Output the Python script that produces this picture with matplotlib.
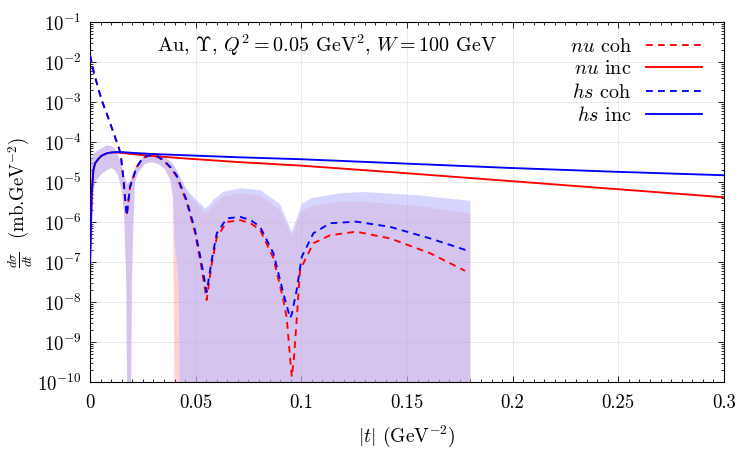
import numpy as np
import matplotlib
matplotlib.use('Agg')
import matplotlib.pyplot as plt
from matplotlib.ticker import MultipleLocator, LogLocator, NullFormatter, FuncFormatter

plt.rcParams['font.family'] = 'serif'
plt.rcParams['font.serif'] = ['cmr10']
plt.rcParams['mathtext.fontset'] = 'cm'
plt.rcParams['axes.formatter.use_mathtext'] = True
plt.rcParams['font.size'] = 13

# coherent curves (log10 of dsigma/dt)
t_hs_coh = [0, 0.002, 0.0055, 0.008, 0.010, 0.012, 0.0134, 0.0145, 0.0158, 0.0166, 0.0174,
            0.0189, 0.0221, 0.0252, 0.0284, 0.032, 0.0347, 0.038, 0.041, 0.0457, 0.0497, 0.0528,
            0.0552, 0.0576, 0.060, 0.0647, 0.071, 0.076, 0.0805, 0.0868, 0.0915, 0.0947, 0.0955,
            0.0978, 0.1002, 0.1057, 0.1136, 0.126, 0.142, 0.161, 0.179]
hs_coh_log = [-1.83, -2.3, -2.95, -3.3, -3.6, -3.9, -4.1, -4.3, -4.9, -5.4, -5.83,
              -5.12, -4.62, -4.38, -4.33, -4.36, -4.45, -4.62, -4.83, -5.45, -6.2, -7.03,
              -7.75, -6.95, -6.28, -5.91, -5.87, -5.95, -6.12, -6.78, -7.78, -8.4, -8.3,
              -7.7, -6.87, -6.28, -6.03, -5.99, -6.12, -6.41, -6.72]

t_nu_coh = [0, 0.002, 0.0055, 0.008, 0.010, 0.012, 0.0134, 0.0145, 0.0158, 0.0166, 0.0174,
            0.0189, 0.0221, 0.0252, 0.0284, 0.032, 0.0347, 0.038, 0.041, 0.0457, 0.0497, 0.0528,
            0.0552, 0.0576, 0.060, 0.0647, 0.071, 0.076, 0.0805, 0.0868, 0.0915, 0.0931, 0.0947,
            0.0955, 0.0965, 0.0978, 0.0994, 0.1057, 0.1136, 0.126, 0.142, 0.161, 0.1775]
nu_coh_log = [-1.83, -2.3, -2.95, -3.3, -3.6, -3.9, -4.1, -4.3, -4.9, -5.42, -5.85,
              -5.14, -4.63, -4.39, -4.34, -4.37, -4.46, -4.64, -4.86, -5.5, -6.27, -7.15,
              -7.95, -7.05, -6.38, -6.0, -5.95, -6.03, -6.2, -6.9, -7.95, -8.4, -9.4,
              -9.87, -9.4, -8.45, -7.2, -6.53, -6.33, -6.24, -6.41, -6.78, -7.22]

# incoherent curves
t_inc = [0, 0.0008, 0.0016, 0.0024, 0.004, 0.0055, 0.008, 0.0103, 0.0125, 0.015, 0.02, 0.03,
         0.045, 0.07, 0.1, 0.15, 0.2, 0.25, 0.3]
hs_inc_log = [-7.0, -5.3, -4.7, -4.53, -4.42, -4.34, -4.28, -4.26, -4.25, -4.25, -4.27, -4.3,
              -4.33, -4.38, -4.43, -4.54, -4.65, -4.745, -4.83]
nu_inc_log = [-7.0, -5.3, -4.7, -4.53, -4.42, -4.34, -4.28, -4.26, -4.26, -4.27, -4.3, -4.35,
              -4.41, -4.5, -4.59, -4.78, -4.98, -5.18, -5.38]

# uncertainty bands (log10), -12 means below the axis
t_band = [0.0, 0.0006, 0.0012, 0.0024, 0.0055, 0.008, 0.0103, 0.0118, 0.0134, 0.015, 0.0162,
          0.0172, 0.0178, 0.0192, 0.0198, 0.0205, 0.0213, 0.0229, 0.026, 0.0292, 0.0325, 0.0355,
          0.038, 0.0393, 0.0402, 0.0412, 0.042, 0.0428, 0.046, 0.0489, 0.053, 0.0544, 0.056,
          0.0583, 0.063, 0.071, 0.0805, 0.0899, 0.0955, 0.1002, 0.105, 0.1183, 0.13, 0.155, 0.18]
hs_band_hi = [-4.45, -4.4, -4.35, -4.25, -4.15, -4.08, -4.1, -4.16, -4.33, -4.6, -4.85,
              -5.0, -5.05, -4.95, -4.85, -4.75, -4.65, -4.49, -4.33, -4.28, -4.3, -4.37,
              -4.48, -4.56, -4.62, -4.72, -4.8, -4.9, -5.2, -5.37, -5.58, -5.66, -5.6,
              -5.45, -5.24, -5.16, -5.2, -5.55, -6.25, -5.55, -5.4, -5.28, -5.25, -5.33, -5.47]
hs_band_lo = [-12, -7.5, -5.4, -5.0, -4.8, -4.7, -4.65, -4.7, -4.85, -5.2, -5.8,
              -7.5, -12, -12, -7.5, -6.0, -5.0, -4.75, -4.55, -4.5, -4.55, -4.68,
              -4.95, -5.4, -6.6, -7.0, -7.6, -12, -12, -12, -12, -12, -12,
              -12, -12, -12, -12, -12, -12, -12, -12, -12, -12, -12, -12]
nu_band_hi = [-4.47, -4.42, -4.37, -4.27, -4.17, -4.1, -4.12, -4.18, -4.35, -4.62, -4.87,
              -5.02, -5.07, -4.97, -4.87, -4.77, -4.67, -4.51, -4.35, -4.3, -4.32, -4.39,
              -4.5, -4.58, -4.64, -4.74, -4.82, -4.93, -5.25, -5.45, -5.68, -5.78, -5.72,
              -5.57, -5.36, -5.28, -5.33, -5.7, -6.35, -5.72, -5.6, -5.5, -5.49, -5.6, -5.78]
nu_band_lo = [-12, -7.5, -5.4, -5.0, -4.8, -4.7, -4.65, -4.7, -4.85, -5.2, -5.8,
              -7.5, -12, -12, -7.5, -6.0, -5.0, -4.75, -4.55, -4.5, -4.55, -4.68,
              -4.95, -5.4, -12, -12, -12, -12, -12, -12, -12, -12, -12,
              -12, -12, -12, -12, -12, -12, -12, -12, -12, -12, -12, -12]


def lin(v):
    return 10.0 ** np.array(v)


fig = plt.figure(figsize=(7.5, 4.5), dpi=100)
ax = fig.add_axes([0.12, 0.151, 0.8453, 0.80])

ax.fill_between(t_band, lin(nu_band_lo), lin(nu_band_hi), facecolor='red', alpha=0.18, lw=0, zorder=1)
ax.fill_between(t_band, lin(hs_band_lo), lin(hs_band_hi), facecolor=(0.74, 0.74, 1.0), alpha=0.63, lw=0, zorder=1.1)

ax.plot(t_nu_coh, lin(nu_coh_log), color='red', lw=1.35, dashes=(3.6, 2.8), label='$nu$ coh', zorder=3)
ax.plot(t_inc, lin(nu_inc_log), color='red', lw=1.35, label='$nu$ inc', zorder=3)
ax.plot(t_hs_coh, lin(hs_coh_log), color='blue', lw=1.35, dashes=(3.6, 2.8), label='$hs$ coh', zorder=4)
ax.plot(t_inc, lin(hs_inc_log), color='blue', lw=1.35, label='$hs$ inc', zorder=4)

ax.set_yscale('log')
ax.set_xlim(0, 0.3)
ax.set_ylim(1e-10, 1e-1)
ax.xaxis.set_major_locator(MultipleLocator(0.05))
ax.xaxis.set_minor_locator(MultipleLocator(0.005))
ax.xaxis.set_major_formatter(FuncFormatter(lambda v, p: '0' if abs(v) < 1e-9 else ('%.2f' % v).rstrip('0')))
ax.yaxis.set_major_locator(LogLocator(base=10, numticks=20))
ax.yaxis.set_minor_locator(LogLocator(base=10, subs=np.arange(2, 10), numticks=20))
ax.yaxis.set_minor_formatter(NullFormatter())

ax.tick_params(which='both', direction='in', top=True, right=True, width=0.6)
ax.tick_params(which='major', length=4, labelsize=13.5)
ax.tick_params(axis='x', which='major', pad=9)
ax.tick_params(axis='y', which='major', pad=6)
ax.tick_params(which='minor', length=2)
ax.grid(True, which='major', color='#e6e6e6', lw=0.6)
ax.set_axisbelow(True)
for s in ax.spines.values():
    s.set_linewidth(0.8)

ax.set_xlabel(r'$|t|$ (GeV$^{-2}$)', fontsize=14, labelpad=8)
ax.set_ylabel(r'$\frac{d\sigma}{dt}$  (mb.GeV$^{-2}$)', fontsize=13.5, labelpad=2)

ax.text(0.374, 0.936, r'Au, $\Upsilon$, $Q^2 = 0.05$ GeV$^2$, $W = 100$ GeV',
        transform=ax.transAxes, ha='center', va='center', fontsize=14.5)

ax.legend(loc='upper right', bbox_to_anchor=(0.985, 0.99), frameon=False, markerfirst=False,
          handlelength=2.8, handletextpad=0.7, labelspacing=0.22, fontsize=14.5, borderaxespad=0.2)

fig.savefig('out.png', dpi=100)
